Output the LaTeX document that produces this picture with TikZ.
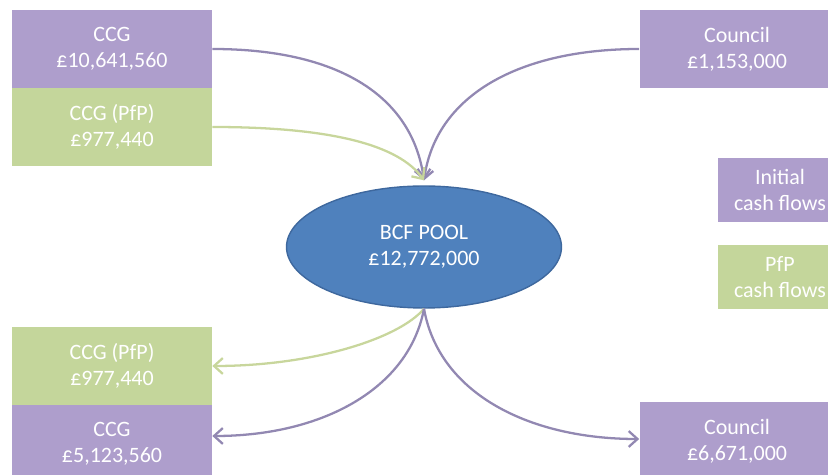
\documentclass[tikz,border=0pt]{standalone}
\usepackage{fontspec}
\setmainfont{Carlito}
\usetikzlibrary{arrows.meta,positioning,shapes.geometric}
\definecolor{initial}{RGB}{174,158,204}
\definecolor{pfp}{RGB}{196,214,155}
\definecolor{initline}{RGB}{146,136,178}
\definecolor{pfpline}{RGB}{200,214,156}
\definecolor{pool}{RGB}{79,129,189}
\definecolor{poolrim}{RGB}{62,104,158}

\begin{document}
\begin{tikzpicture}[
  x=0.02cm, y=-0.02cm,
  every node/.style={font=\fontsize{12.5}{15}\selectfont, text=white},
  flowbox/.style={fill=initial, minimum width=4cm, minimum height=1.56cm,
                  inner sep=0pt, align=center},
  keybox/.style={fill=initial, minimum width=2.5cm, minimum height=1.28cm,
                 inner sep=0pt, align=center},
  flow/.style={draw=initline, line width=1.3pt, -{Straight Barb[length=5pt,width=9pt]}},
  >=Stealth
]
\clip (0,0) rectangle (828,475);
\useasboundingbox (0,0) rectangle (828,475);

% money in
\node[flowbox] (ccgIn) at (112,49) {CCG\\£10,641,560};
\node[flowbox, fill=pfp] (pfpIn) at (112,127) {CCG (PfP)\\£977,440};
\node[flowbox, minimum width=3.9cm] (councilIn) at (737,49) {Council\\£1,153,000};

% the pool
\node[ellipse, draw=poolrim, fill=pool, line width=0.8pt,
      minimum width=5.5cm, minimum height=2.44cm, align=center] (pool) at (424,247)
  {BCF POOL\\£12,772,000};

% money out
\node[flowbox, fill=pfp] (pfpOut) at (112,366) {CCG (PfP)\\£977,440};
\node[flowbox] (ccgOut) at (112,444) {CCG\\£5,123,560};
\node[flowbox, minimum width=3.9cm] (councilOut) at (737,441) {Council\\£6,671,000};

% key
\node[keybox] (keyInit) at (780,190) {Initial\\cash flows};
\node[keybox, fill=pfp] (keyPfp) at (780,277) {PfP\\cash flows};

% flows
\draw[flow] (ccgIn.east) .. controls +(125,0) and +(-12,-85) .. ([yshift=0.1cm]pool.north);
\draw[flow] (councilIn.west) .. controls +(-120,0) and +(12,-85) .. ([yshift=0.1cm]pool.north);
\draw[flow, draw=pfpline] (pfpIn.east) .. controls +(120,0) and +(-25,-35) .. ([yshift=0.1cm]pool.north);

\draw[flow, draw=pfpline] (pool.south) .. controls +(-25,30) and +(100,0) .. (pfpOut.east);
\draw[flow] (pool.south) .. controls +(-15,80) and +(110,0) .. ([yshift=0.16cm]ccgOut.east);
\draw[flow] (pool.south) .. controls +(15,85) and +(-110,0) .. ([yshift=0.04cm]councilOut.west);

\end{tikzpicture}
\end{document}
